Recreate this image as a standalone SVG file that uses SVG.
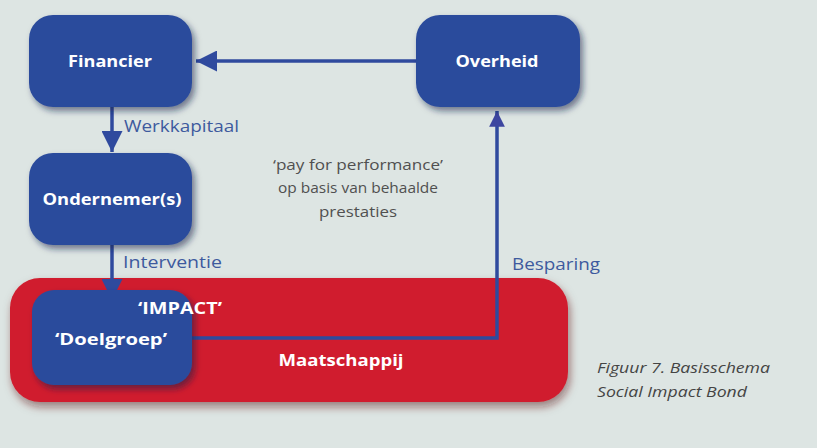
<svg xmlns="http://www.w3.org/2000/svg" width="817" height="448" viewBox="0 0 817 448">
<defs>
<style>
.node{fill:#2c4b9c;filter:url(#sh)}
.nt{font-family:"Open Sans","Liberation Sans",Arial,sans-serif;font-weight:bold;font-size:16px;fill:#ffffff;text-anchor:middle}
.lbl{font-family:"Open Sans","Liberation Sans",Arial,sans-serif;font-size:16px;fill:#3d5a9e}
.mid{font-family:"Open Sans","Liberation Sans",Arial,sans-serif;font-size:15px;fill:#505050;text-anchor:middle}
.cap{font-family:"Open Sans","Liberation Sans",Arial,sans-serif;font-style:italic;font-size:14px;fill:#444}
.conn{stroke:#2f4a9e;stroke-width:3.5;fill:none}
</style>
<filter id="sh" x="-20%" y="-20%" width="150%" height="160%">
<feDropShadow dx="3" dy="4" stdDeviation="3" flood-color="#14224a" flood-opacity="0.55"/>
</filter>
<filter id="shr" x="-10%" y="-20%" width="120%" height="150%">
<feDropShadow dx="2" dy="5" stdDeviation="4" flood-color="#5a0a10" flood-opacity="0.5"/>
</filter>
<marker id="ah" viewBox="0 0 10 10" refX="10" refY="5" markerWidth="6" markerHeight="6" markerUnits="strokeWidth" orient="auto">
<path d="M0,0 L10,5 L0,10 z" fill="#2f4a9e"/>
</marker>
<marker id="ahs" viewBox="0 0 10 10" refX="10" refY="5" markerWidth="4.5" markerHeight="6" markerUnits="strokeWidth" orient="auto">
<path d="M0,0 L10,5 L0,10 z" fill="#3d46a0"/>
</marker>
</defs>
<rect width="817" height="448" fill="#dde5e3"/>
<g id="maatschappij">
<rect x="10" y="278" width="558" height="124" rx="30" fill="#d01f2e" filter="url(#shr)"/>
<text class="nt" x="341" y="366" textLength="125" lengthAdjust="spacingAndGlyphs">Maatschappij</text>
</g>
<g id="connectors">
<line class="conn" x1="416" y1="61" x2="196" y2="61" marker-end="url(#ah)"/>
<line class="conn" x1="112" y1="107" x2="112" y2="152" marker-end="url(#ah)"/>
<line class="conn" x1="112" y1="245" x2="112" y2="300" marker-end="url(#ah)"/>
<polyline class="conn" points="192,338 497,338 497,111" marker-end="url(#ahs)" stroke="#3d46a0"/>
</g>
<g id="financier">
<rect class="node" x="29" y="15" width="163" height="92" rx="24"/>
<text class="nt" x="110" y="67" textLength="84" lengthAdjust="spacingAndGlyphs">Financier</text>
</g>
<g id="overheid">
<rect class="node" x="416" y="15" width="164" height="92" rx="24"/>
<text class="nt" x="497" y="67" textLength="83" lengthAdjust="spacingAndGlyphs">Overheid</text>
</g>
<g id="ondernemer">
<rect class="node" x="29" y="153" width="163" height="92" rx="24"/>
<text class="nt" x="112" y="205" textLength="139" lengthAdjust="spacingAndGlyphs">Ondernemer(s)</text>
</g>
<g id="doelgroep">
<rect class="node" x="32" y="290" width="160" height="95" rx="22"/>
<text class="nt" x="111" y="345" textLength="112" lengthAdjust="spacingAndGlyphs">‘Doelgroep’</text>
</g>
<g id="impact">
<text class="nt" x="180" y="314" textLength="84" lengthAdjust="spacingAndGlyphs">‘IMPACT’</text>
</g>
<g id="labels">
<text class="lbl" x="124" y="132" textLength="115" lengthAdjust="spacingAndGlyphs">Werkkapitaal</text>
<text class="lbl" x="123" y="268" textLength="99" lengthAdjust="spacingAndGlyphs">Interventie</text>
<text class="lbl" x="512" y="270" textLength="88" lengthAdjust="spacingAndGlyphs">Besparing</text>
<text class="mid" x="358" y="170" textLength="170" lengthAdjust="spacingAndGlyphs">‘pay for performance’</text>
<text class="mid" x="358" y="193" textLength="160" lengthAdjust="spacingAndGlyphs">op basis van behaalde</text>
<text class="mid" x="358" y="217" textLength="78" lengthAdjust="spacingAndGlyphs">prestaties</text>
<text class="cap" x="597" y="373" textLength="173" lengthAdjust="spacingAndGlyphs">Figuur 7. Basisschema</text>
<text class="cap" x="597" y="397" textLength="150" lengthAdjust="spacingAndGlyphs">Social Impact Bond</text>
</g>
</svg>
